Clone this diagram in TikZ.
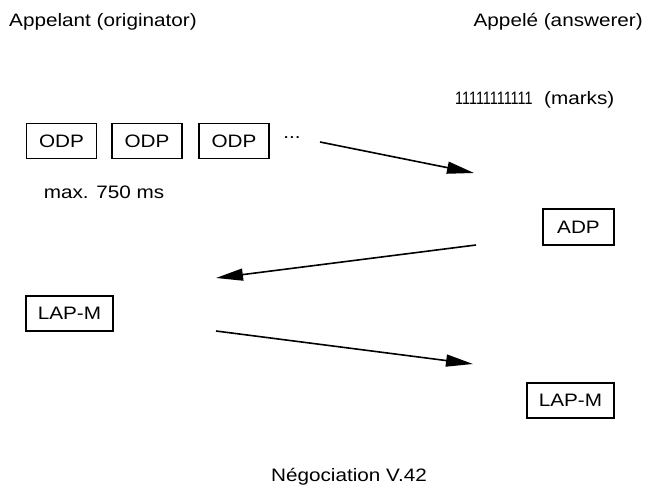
\documentclass[tikz,border=0pt]{standalone}
\usepackage{fontspec}
\setmainfont[FakeStretch=1.15]{Liberation Sans}
\newfontfamily\onesfont[FakeStretch=0.8]{Liberation Sans}
\usetikzlibrary{arrows.meta}
\begin{document}
\begin{tikzpicture}[x=1pt,y=-1pt,
  lbl/.style={font=\fontsize{18}{21}\selectfont, inner sep=0pt},
  frame/.style={draw, line width=1.6pt, minimum height=35pt, inner sep=0pt,
    font=\fontsize{18}{21}\selectfont},
  msg/.style={line width=1.6pt, -{Triangle[length=27pt,width=12pt]}}]
\useasboundingbox (0,0) rectangle (645,489);

% column headings
\node[lbl, anchor=west] (orig) at (9,22) {Appelant (originator)};
\node[lbl, anchor=east] (ans) at (643,22) {Appelé (answerer)};
\node[lbl, anchor=west] (marks) at (455,100) {{\onesfont\fontsize{18}{21}\selectfont 11111111111}\ \ (marks)};

% originator detection pattern
\node[frame, minimum width=70pt] (odp1) at (61.5,141) {ODP};
\node[frame, minimum width=70pt] (odp2) at (147,141) {ODP};
\node[frame, minimum width=70pt] (odp3) at (234,141) {ODP};
\node[lbl] (dots) at (292,138) {...};
\node[lbl] (maxt) at (104,192) {max. 750 ms};

% answer detection pattern
\node[frame, minimum width=71pt, minimum height=36pt] (adp) at (578.5,227) {ADP};

% LAP-M frames
\node[frame, minimum width=87pt] (lapa) at (69.5,313.5) {LAP-M};
\node[frame, minimum width=87pt] (lapb) at (570.5,400.5) {LAP-M};

% message arrows
\coordinate (a1s) at (320,142);
\coordinate (a1e) at (474,173);
\coordinate (a2s) at (476,245);
\coordinate (a2e) at (216,278);
\coordinate (a3s) at (216,331);
\coordinate (a3e) at (473,364);
\draw[msg] (a1s) -- (a1e);
\draw[msg] (a2s) -- (a2e);
\draw[msg] (a3s) -- (a3e);

\node[lbl] (title) at (349,477) {Négociation V.42};
\end{tikzpicture}
\end{document}
